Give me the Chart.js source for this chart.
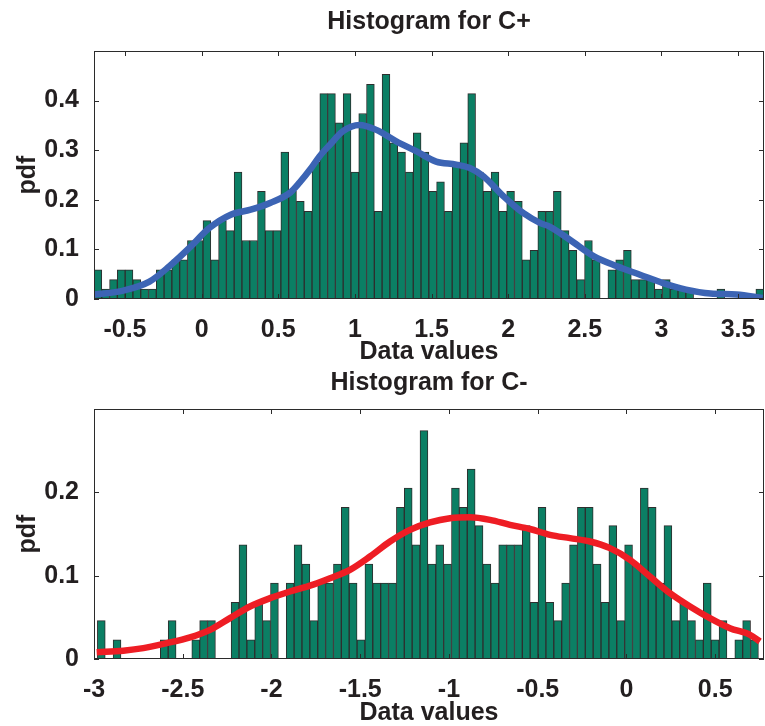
<!DOCTYPE html>
<html>
<head>
<meta charset="utf-8">
<script src="https://cdn.jsdelivr.net/npm/chart.js@4.4.1/dist/chart.umd.min.js"></script>
<style>
  html, body { margin: 0; padding: 0; background: #fff; }
  body { width: 765px; height: 726px; position: relative; overflow: hidden; }
  canvas { position: absolute; left: 0; }
  #chartTop { top: 0; }
  #chartBottom { top: 360px; }
</style>
</head>
<body>
<canvas id="chartTop" width="765" height="365"></canvas>
<canvas id="chartBottom" width="765" height="366"></canvas>
<script>
// --- C+ histogram ---
const topBinStart = -0.702;
const topBinWidth = 0.0508;
const topPdf = [
  0.059, 0.020, 0.039, 0.059, 0.059, 0.039, 0.020, 0.020, 0.059, 0.059,
  0.079, 0.079, 0.118, 0.118, 0.158, 0.079, 0.158, 0.138, 0.256, 0.118,
  0.118, 0.217, 0.138, 0.138, 0.296, 0.217, 0.197, 0.177, 0.276, 0.414,
  0.414, 0.355, 0.414, 0.256, 0.374, 0.433, 0.177, 0.453, 0.315, 0.296,
  0.256, 0.335, 0.296, 0.217, 0.236, 0.177, 0.276, 0.315, 0.414, 0.256,
  0.217, 0.256, 0.177, 0.217, 0.197, 0.079, 0.098, 0.177, 0.177, 0.217,
  0.138, 0.098, 0.039, 0.118, 0.079, 0, 0.059, 0.079, 0.098, 0.039,
  0.039, 0.039, 0.020, 0.039, 0.020, 0.020, 0.020, 0, 0, 0,
  0.020, 0, 0, 0, 0, 0.020
];
const topKdeX = [-0.70, -0.51, -0.34, -0.21, -0.08, 0.05, 0.19, 0.32, 0.45, 0.58, 0.64, 0.71, 0.77, 0.84, 0.92,
  1.03, 1.14, 1.27, 1.40, 1.53, 1.66, 1.75, 1.84, 1.97, 2.10, 2.21, 2.27, 2.40, 2.56, 2.71, 2.86,
  3.01, 3.16, 3.32, 3.49, 3.66];
const topKdeY = [0.009, 0.017, 0.035, 0.066, 0.103, 0.143, 0.170, 0.180, 0.194, 0.215, 0.235, 0.262, 0.288, 0.312, 0.338,
  0.351, 0.341, 0.318, 0.298, 0.277, 0.271, 0.264, 0.247, 0.207, 0.173, 0.153, 0.146, 0.120, 0.086, 0.066, 0.049,
  0.032, 0.019, 0.011, 0.009, 0.002];
const topXTicks = [-0.5, 0, 0.5, 1, 1.5, 2, 2.5, 3, 3.5];
const topYTicks = [0, 0.1, 0.2, 0.3, 0.4];

// --- C- histogram ---
const bottomBinStart = -2.981;
const bottomBinWidth = 0.04434;
const bottomPdf = [
  0.046, 0, 0.023, 0, 0, 0, 0, 0, 0.023, 0.046,
  0, 0, 0.023, 0.046, 0.046, 0, 0, 0.068, 0.137, 0.023,
  0.068, 0.046, 0.091, 0, 0.091, 0.137, 0.114, 0.046, 0.091, 0.091,
  0.114, 0.182, 0.091, 0.023, 0.114, 0.091, 0.091, 0.091, 0.182, 0.205,
  0.137, 0.274, 0.114, 0.137, 0.114, 0.205, 0.182, 0.228, 0.160, 0.114,
  0.091, 0.137, 0.137, 0.137, 0.160, 0.068, 0.182, 0.068, 0.046, 0.091,
  0.137, 0.182, 0.182, 0.114, 0.068, 0.160, 0.046, 0.137, 0.114, 0.205,
  0.182, 0.091, 0.160, 0.046, 0.068, 0.046, 0.023, 0.091, 0.023, 0.046,
  0, 0.023, 0.046, 0.023, 0
];
const bottomKdeX = [-2.985, -2.835, -2.722, -2.590, -2.459, -2.346, -2.234, -2.121, -2.008, -1.896, -1.783,
  -1.670, -1.558, -1.445, -1.332, -1.220, -1.107, -0.994, -0.882, -0.769, -0.656, -0.544, -0.431, -0.318,
  -0.206, -0.093, 0.020, 0.132, 0.245, 0.358, 0.470, 0.583, 0.696, 0.752];
const bottomKdeY = [0.008, 0.010, 0.013, 0.019, 0.026, 0.035, 0.049, 0.063, 0.073, 0.081, 0.088,
  0.097, 0.107, 0.123, 0.141, 0.155, 0.164, 0.169, 0.170, 0.167, 0.161, 0.156, 0.149, 0.145,
  0.141, 0.133, 0.119, 0.099, 0.079, 0.063, 0.049, 0.037, 0.029, 0.021];
const bottomXTicks = [-3, -2.5, -2, -1.5, -1, -0.5, 0, 0.5];
const bottomYTicks = [0, 0.1, 0.2];

const textColor = '#231f20';
const fontFamily = "'Liberation Sans', Arial, sans-serif";

// box round the axes with small inward tick marks on all four sides
const boxTicks = {
  id: 'boxTicks',
  afterDatasetsDraw(chart) {
    const { ctx, chartArea: a, scales: { x, y } } = chart;
    ctx.save();
    ctx.strokeStyle = '#2b2b2b';
    ctx.lineWidth = 1;
    ctx.strokeRect(a.left + 0.5, a.top + 0.5, a.right - a.left - 1, a.bottom - a.top - 1);
    ctx.beginPath();
    x.ticks.forEach(t => {
      const px = Math.round(x.getPixelForValue(t.value)) + 0.5;
      ctx.moveTo(px, a.top); ctx.lineTo(px, a.top + 5);
      ctx.moveTo(px, a.bottom); ctx.lineTo(px, a.bottom - 5);
    });
    y.ticks.forEach(t => {
      const py = Math.round(y.getPixelForValue(t.value)) + 0.5;
      ctx.moveTo(a.left, py); ctx.lineTo(a.left + 5, py);
      ctx.moveTo(a.right, py); ctx.lineTo(a.right - 5, py);
    });
    ctx.stroke();
    ctx.restore();
  }
};

function drawHistogram(canvasId, o) {
  const bars = o.pdf.map((v, i) => ({ x: o.binStart + (i + 0.5) * o.binWidth, y: v }));
  const curve = o.kdeX.map((v, i) => ({ x: v, y: o.kdeY[i] }));
  const font = { family: fontFamily, size: 25, weight: 'bold' };

  return new Chart(document.getElementById(canvasId), {
    type: 'bar',
    data: {
      datasets: [
        {
          type: 'line',
          data: curve,
          borderColor: o.lineColor,
          borderWidth: 6.5,
          pointRadius: 0,
          cubicInterpolationMode: 'monotone',
          order: 0
        },
        {
          type: 'bar',
          data: bars,
          backgroundColor: '#0b7f64',
          borderColor: '#2e2e2e',
          borderWidth: 1,
          barPercentage: 1,
          categoryPercentage: 1,
          order: 1
        }
      ]
    },
    options: {
      responsive: false,
      animation: false,
      layout: { padding: { left: 0, right: 1, top: 0, bottom: 0 } },
      plugins: {
        legend: { display: false },
        tooltip: { enabled: false },
        title: {
          display: true,
          fullSize: false,   // centre it over the axes, not the canvas
          text: o.title,
          color: textColor,
          font: { ...font, lineHeight: 1.2 },
          padding: { top: o.titleTop, bottom: o.titleBottom }
        }
      },
      scales: {
        x: {
          type: 'linear',
          min: o.xMin,
          max: o.xMax,
          offset: false,
          grid: { display: false },
          border: { display: false },
          afterBuildTicks: s => { s.ticks = o.xTicks.map(v => ({ value: v })); },
          afterFit: s => { s.height = o.xAxisHeight; },
          ticks: {
            color: textColor, font, padding: 8, maxRotation: 0, autoSkip: false,
            callback: v => String(v)
          },
          title: {
            display: true, text: 'Data values', color: textColor,
            font: { ...font, lineHeight: 1 }, padding: { top: 0, bottom: 0 }
          }
        },
        y: {
          min: 0,
          max: o.yMax,
          grid: { display: false },
          border: { display: false },
          afterBuildTicks: s => { s.ticks = o.yTicks.map(v => ({ value: v })); },
          afterFit: s => { s.width = 94; },
          ticks: { color: textColor, font, padding: 7, callback: v => String(v) },
          title: {
            display: true, text: 'pdf', color: textColor,
            font: { ...font, lineHeight: 1 }, padding: { top: 15.5, bottom: 0 }
          }
        }
      }
    },
    plugins: [boxTicks]
  });
}

drawHistogram('chartTop', {
  title: 'Histogram for C+',
  titleTop: 7, titleBottom: 14,
  pdf: topPdf, binStart: topBinStart, binWidth: topBinWidth,
  kdeX: topKdeX, kdeY: topKdeY, lineColor: '#3c64b4',
  xMin: -0.702, xMax: 3.669, xTicks: topXTicks, xAxisHeight: 66,
  yMax: 0.5, yTicks: topYTicks
});

drawHistogram('chartBottom', {
  title: 'Histogram for C-',
  titleTop: 8, titleBottom: 11,
  pdf: bottomPdf, binStart: bottomBinStart, binWidth: bottomBinWidth,
  kdeX: bottomKdeX, kdeY: bottomKdeY, lineColor: '#ee1d24',
  xMin: -3, xMax: 0.775, xTicks: bottomXTicks, xAxisHeight: 67,
  yMax: 0.3, yTicks: bottomYTicks
});
</script>
</body>
</html>
